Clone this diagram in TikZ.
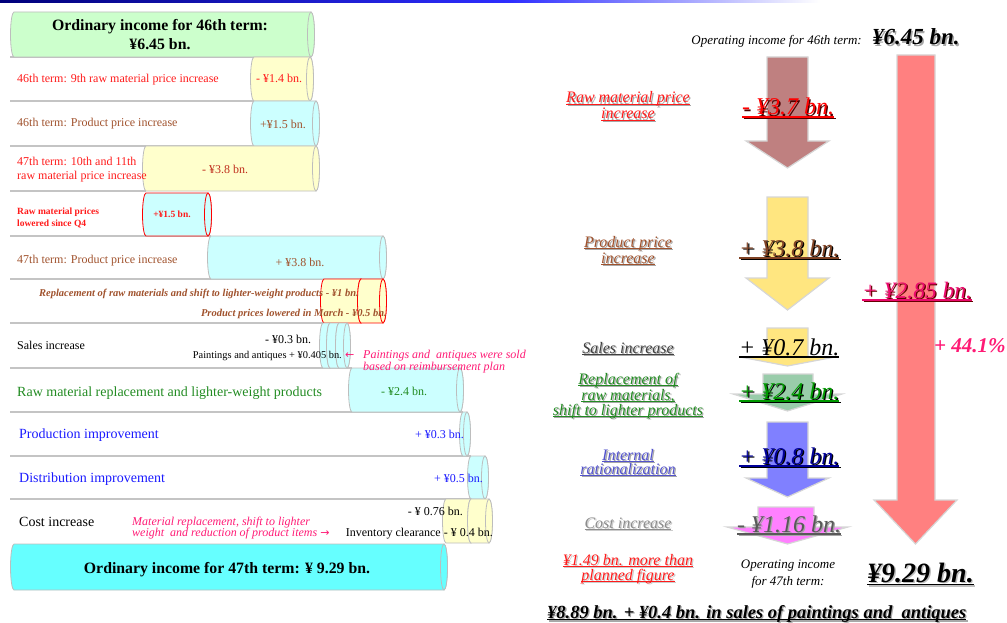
\documentclass[tikz,border=0pt]{standalone}
\usepackage{fontspec}
\setmainfont{Liberation Serif}
\newfontfamily\arrowfont{DejaVu Sans}
\newcommand\fsz[1]{\fontsize{#1}{#1}\selectfont}
\newsavebox\ulsave
\newcommand\ulx[1]{\sbox\ulsave{#1}\rlap{\rule[-0.12em]{\wd\ulsave}{0.06em}}\usebox\ulsave}

\definecolor{navyc}{HTML}{00007A}
\definecolor{bluec}{HTML}{2E2EFF}
\definecolor{linegray}{HTML}{C4C4C4}
\definecolor{cylgray}{HTML}{BDBDBD}
\definecolor{fgreen}{HTML}{CCFFCC}
\definecolor{fyellow}{HTML}{FFFFCC}
\definecolor{fcyan}{HTML}{CCFFFF}
\definecolor{fcyanb}{HTML}{66FFFF}
\definecolor{cRed}{HTML}{FF1A1A}
\definecolor{cFire}{HTML}{C0301E}
\definecolor{cBrown}{HTML}{A0522D}
\definecolor{cGreen}{HTML}{228B22}
\definecolor{cBlue}{HTML}{1A1AFF}
\definecolor{cPink}{HTML}{FF1A75}
\definecolor{aRose}{HTML}{BF8080}
\definecolor{aYellow}{HTML}{FFE680}
\definecolor{aGreen}{HTML}{99CCAA}
\definecolor{aBlue}{HTML}{8080FF}
\definecolor{aMagenta}{HTML}{FF80FF}
\definecolor{aSalmon}{HTML}{FF8080}
\definecolor{aBorder}{HTML}{D6D6D6}
\definecolor{shGray}{HTML}{A8A8A8}

% horizontal cylinder: border, fill, left centre x, right centre x, top y, bottom y
\newcommand\hcyl[6]{%
  \pgfmathsetmacro\cylry{(#6-#5)/2}%
  \filldraw[draw=#1, fill=#2, line width=0.8pt] (#3,#5) -- (#4,#5)
    arc[start angle=90, end angle=-90, x radius=3.5pt, y radius=\cylry pt]
    -- (#3,#6)
    arc[start angle=270, end angle=90, x radius=3.5pt, y radius=\cylry pt] -- cycle;
  \filldraw[draw=#1, fill=#2, line width=0.8pt] (#4,{(#5+#6)/2})
    ellipse[x radius=3.5pt, y radius=\cylry pt];
}
% block arrow pointing down: fill, shaft x0, shaft x1, top y, head y, head x0, head x1, tip y
\newcommand\dnarrow[8]{%
  \filldraw[draw=aBorder, line width=1.2pt, fill=#1, line join=miter]
    (#2,#4) -- (#3,#4) -- (#3,#5) -- (#7,#5) -- ({(#6+#7)/2},#8)
    -- (#6,#5) -- (#2,#5) -- cycle;
}
% text with a soft offset shadow: name, position, style, shadow colour, text
\newcommand\shtext[5]{%
  \node[#3, text=#4, xshift=1.3pt, yshift=-1.3pt] (#1-sh) at #2 {#5};
  \node[#3] (#1) at #2 {#5};
}

\begin{document}
\begin{tikzpicture}[x=1pt, y=-1pt,
  rowline/.style={draw=linegray, line width=1.2pt},
  lt/.style={anchor=base west, inner sep=0pt, font=\fsz{12}},
  lbig/.style={anchor=base west, inner sep=0pt, font=\fsz{14}},
  vt/.style={anchor=base, inner sep=0pt, font=\fsz{12}},
  rlab/.style={anchor=base, inner sep=0pt, font=\itshape\fsz{16}},
  rval/.style={anchor=base west, inner sep=0pt, font=\itshape\fsz{24}},
  note/.style={anchor=base west, inner sep=0pt, font=\itshape\fsz{12}, text=cPink}]
\useasboundingbox (0,0) rectangle (1007,623);

% title band
\shade[left color=navyc, right color=bluec] (0,0) rectangle (510,2.5);
\shade[left color=bluec, right color=white] (510,0) rectangle (820,2.5);

% ---------- waterfall of horizontal cylinders ----------
\foreach \yy/\xe in {57/254, 101/254, 146/254, 191/146, 236/211, 279/324,
                     323/324, 368/352, 412/463, 456/471, 499/471}
  \draw[rowline] (10,\yy) -- (\xe,\yy);

\hcyl{cylgray}{fgreen}{14}{311}{12}{57}
\hcyl{cylgray}{fyellow}{254}{310}{57}{101}
\hcyl{cylgray}{fcyan}{254}{316}{101}{146}
\hcyl{cylgray}{fyellow}{146}{316}{146}{191}
\hcyl{red}{fcyan}{146}{208}{193}{236}
\hcyl{cylgray}{fcyan}{211}{383}{236}{279}
\hcyl{red}{fyellow}{324}{361}{279}{323}
\hcyl{red}{fyellow}{361}{383}{279}{323}
\hcyl{cylgray}{fcyan}{323}{330}{323}{368}
\hcyl{cylgray}{fcyan}{330}{339}{323}{368}
\hcyl{cylgray}{fcyan}{339}{347}{323}{368}
\hcyl{cylgray}{fcyan}{352}{460}{368}{412}
\hcyl{cylgray}{fcyan}{463}{467}{412}{456}
\hcyl{cylgray}{fcyan}{471}{485}{456}{499}
\hcyl{cylgray}{fyellow}{446}{471}{499}{543}
\hcyl{cylgray}{fyellow}{471}{489}{499}{543}
\hcyl{cylgray}{fcyanb}{14}{444}{544}{590}

% row texts
\node[anchor=base, inner sep=0pt, font=\bfseries\fsz{15.8}] (t46a) at (160,31) {Ordinary income for 46th term:};
\node[anchor=base, inner sep=0pt, font=\bfseries\fsz{15.8}] (t46b) at (160,50) {¥6.45 bn.};

\node[lt, text=cRed] (r2t) at (17,83) {46th term: 9th raw material price increase};
\node[vt, text=cRed] (r2v) at (279,83) {- ¥1.4 bn.};

\node[lt, text=cBrown] (r3t) at (17,127) {46th term: Product price increase};
\node[vt, text=cBrown] (r3v) at (283,129) {+¥1.5 bn.};

\node[lt, text=cRed] (r4ta) at (17,165) {47th term: 10th and 11th};
\node[lt, text=cRed] (r4tb) at (17,179) {raw material price increase};
\node[vt, text=cFire] (r4v) at (225,174) {- ¥3.8 bn.};

\node[anchor=base west, inner sep=0pt, font=\bfseries\fsz{9.5}, text=cRed] (r5ta) at (17,214) {Raw material prices};
\node[anchor=base west, inner sep=0pt, font=\bfseries\fsz{9.5}, text=cRed] (r5tb) at (17,226) {lowered since Q4};
\node[anchor=base, inner sep=0pt, font=\bfseries\fsz{9.5}, text=cRed] (r5v) at (172,218) {+¥1.5 bn.};

\node[lt, text=cBrown] (r6t) at (17,263) {47th term: Product price increase};
\node[vt, text=cBrown] (r6v) at (300,266) {+ ¥3.8 bn.};

\node[anchor=base east, inner sep=0pt, font=\bfseries\itshape\fsz{10.5}, text=cBrown] (r7a) at (359,296)
  {Replacement of raw materials and shift to lighter-weight products - ¥1 bn.};
\node[anchor=base east, inner sep=0pt, font=\bfseries\itshape\fsz{10.5}, text=cBrown] (r7b) at (387,316)
  {Product prices lowered in March - ¥0.5 bn.};

\node[lt] (r8t) at (17,349) {Sales increase};
\node[vt] (r8a) at (288,343) {- ¥0.3 bn.};
\node[anchor=base east, inner sep=0pt, font=\fsz{10.4}] (r8b) at (342,358) {Paintings and antiques + ¥0.405 bn.};
\node[anchor=base west, inner sep=0pt, font=\arrowfont\fsz{11}, text=cPink] (r8arr) at (345,358) {←};
\node[note] (r8na) at (363,358) {Paintings and \ antiques were sold};
\node[note] (r8nb) at (363,370) {based on reimbursement plan};

\node[lbig, text=cGreen] (r9t) at (17,396) {Raw material replacement and lighter-weight products};
\node[vt, text=cGreen] (r9v) at (404,395) {- ¥2.4 bn.};

\node[lbig, text=cBlue] (r10t) at (19,438) {Production improvement};
\node[anchor=base east, inner sep=0pt, font=\fsz{12}, text=cBlue] (r10v) at (464,438) {+ ¥0.3 bn.};

\node[lbig, text=cBlue] (r11t) at (19,482) {Distribution improvement};
\node[anchor=base east, inner sep=0pt, font=\fsz{12}, text=cBlue] (r11v) at (483,482) {+ ¥0.5 bn.};

\node[lbig] (r12t) at (19,526) {Cost increase};
\node[anchor=base east, inner sep=0pt, font=\fsz{12}] (r12a) at (463,515) {- ¥ 0.76 bn.};
\node[anchor=base east, inner sep=0pt, font=\fsz{12}] (r12b) at (493,536) {Inventory clearance - ¥ 0.4 bn.};
\node[note] (r12na) at (132,525) {Material replacement, shift to lighter};
\node[note] (r12nb) at (132,536) {weight \ and reduction of product items {\upshape\arrowfont\fsz{11}→}};

\node[anchor=base, inner sep=0pt, font=\bfseries\fsz{15.8}] (t47) at (227,573) {Ordinary income for 47th term: ¥ 9.29 bn.};

% ---------- block arrows ----------
\dnarrow{aSalmon}{897}{935}{55}{500}{874}{957}{544}
\dnarrow{aRose}{767}{808}{57}{141}{746}{829}{168}
\dnarrow{aYellow}{767}{808}{197}{278}{746}{829}{310}
\dnarrow{aYellow}{767}{808}{328}{357}{740}{835}{366}
\dnarrow{aGreen}{763}{813}{374}{394}{733}{842}{411}
\dnarrow{aBlue}{767}{808}{422}{478}{746}{829}{497}
\dnarrow{aMagenta}{758}{814}{507}{527}{727}{848}{544}

% ---------- summary texts ----------
\node[anchor=base east, inner sep=0pt, font=\itshape\fsz{13}] (op46) at (862,45) {Operating income for 46th term:};
\shtext{v46}{(872,45)}{anchor=base west, inner sep=0pt, font=\bfseries\itshape\fsz{23}}{shGray}{¥6.45 bn.}

\shtext{la1a}{(628,103)}{rlab, text=cRed}{shGray}{\ulx{Raw material price}}
\shtext{la1b}{(628,119)}{rlab, text=cRed}{shGray}{\ulx{increase}}
\shtext{va1}{(742,115)}{rval, text=red}{black!70!red}{\ulx{- ¥3.7 bn.}}

\shtext{la2a}{(628,247)}{rlab, text=cBrown}{shGray}{\ulx{Product price}}
\shtext{la2b}{(628,263)}{rlab, text=cBrown}{shGray}{\ulx{increase}}
\shtext{va2}{(739,256)}{rval, text=cBrown!80!black}{black}{\ulx{+ ¥3.8 bn.}}

\shtext{va285}{(862,298)}{rval, font=\itshape\fsz{23.5}, text=magenta!70!red}{black!60!red}{\ulx{+ ¥2.85 bn.}}
\node[anchor=base west, inner sep=0pt, font=\bfseries\itshape\fsz{21}, text=cPink] (pct) at (934,352) {+ 44.1\%};

\shtext{la3}{(628,353)}{rlab, text=black!75}{shGray}{\ulx{Sales increase}}
\node[rval] (va3) at (739,355) {\ulx{+ ¥0.7 bn.}};

\shtext{la4a}{(628,384)}{rlab, text=cGreen}{shGray}{\ulx{Replacement of}}
\shtext{la4b}{(628,400)}{rlab, text=cGreen}{shGray}{\ulx{raw materials,}}
\shtext{la4c}{(628,415)}{rlab, text=cGreen}{shGray}{\ulx{shift to lighter products}}
\shtext{va4}{(739,399)}{rval, text=green!60!black}{black}{\ulx{+ ¥2.4 bn.}}

\shtext{la5a}{(628,460)}{rlab, text=blue!60!white!80!black}{shGray}{\ulx{Internal}}
\shtext{la5b}{(628,474)}{rlab, text=blue!60!white!80!black}{shGray}{\ulx{rationalization}}
\shtext{va5}{(739,464)}{rval, text=blue!60!black}{black}{\ulx{+ ¥0.8 bn.}}

\shtext{la6}{(628,528)}{rlab, text=black!45}{black!20}{\ulx{Cost increase}}
\shtext{va6}{(737,532)}{rval, text=black!65}{black!35}{\ulx{- ¥1.16 bn.}}

\shtext{la7a}{(628,565)}{rlab, text=cRed}{black!20}{\ulx{¥1.49 bn. more than}}
\shtext{la7b}{(628,580)}{rlab, text=cRed}{black!20}{\ulx{planned figure}}

\node[anchor=base, inner sep=0pt, font=\itshape\fsz{13}] (op47a) at (788,568) {Operating income};
\node[anchor=base, inner sep=0pt, font=\itshape\fsz{13}] (op47b) at (788,585) {for 47th term:};
\shtext{v47}{(867,582)}{anchor=base west, inner sep=0pt, font=\bfseries\itshape\fsz{28}}{black!25}{\ulx{¥9.29 bn.}}

\shtext{tot}{(547,618)}{anchor=base west, inner sep=0pt, font=\bfseries\itshape\fsz{18.5}}{shGray}{\ulx{¥8.89 bn. + ¥0.4 bn. in sales of paintings and \ antiques}}
\end{tikzpicture}
\end{document}
